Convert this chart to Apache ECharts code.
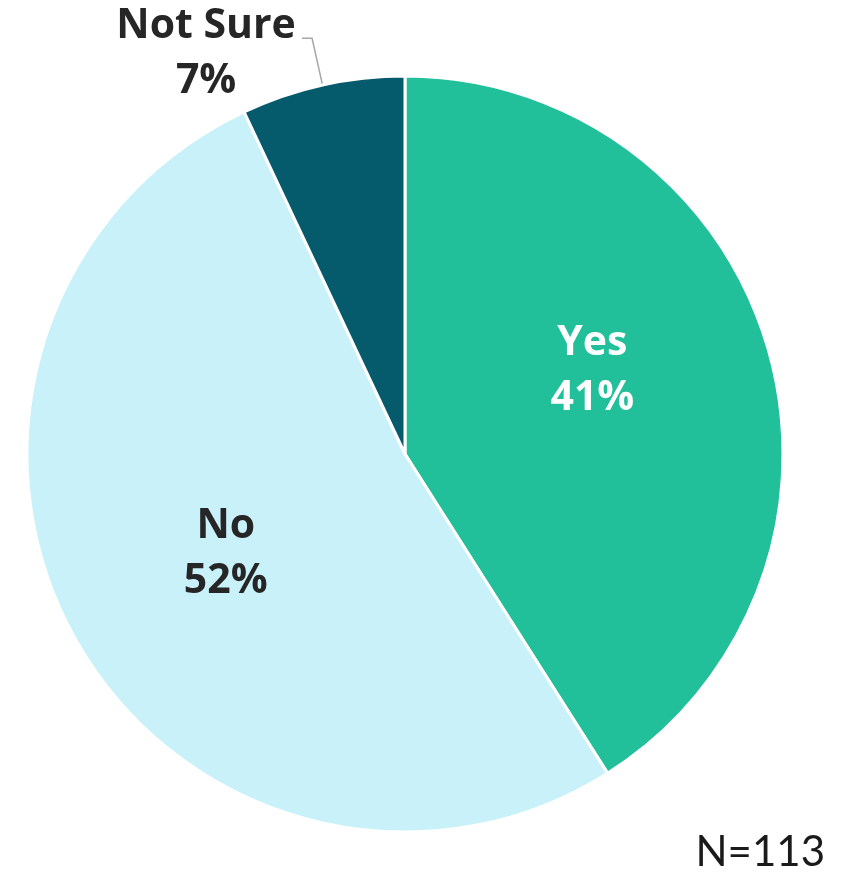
<!DOCTYPE html>
<html>
<head>
<meta charset="utf-8">
<script src="https://cdn.jsdelivr.net/npm/echarts@6/dist/echarts.min.js"></script>
<style>
  html, body { margin: 0; padding: 0; background: #fff; }
  #chart { width: 851px; height: 876px; }
</style>
</head>
<body>
<div id="chart"></div>
<script>
// Survey answers, drawn clockwise from 12 o'clock
const categories = ['Yes', 'No', 'Not Sure'];
const shares = [41, 52, 7];
const sliceColors = ['#21bf9a', '#c8f1fa', '#055a6b'];
const labelColors = ['#ffffff', '#262626', '#262626'];
const sampleNote = 'N=113';

const chart = echarts.init(document.getElementById('chart'), null, { renderer: 'canvas' });

const labelFont = { fontFamily: 'Open Sans', fontWeight: 'bold', fontSize: 41, lineHeight: 55 };

const data = categories.map((name, i) => {
  const item = {
    name: name,
    value: shares[i],
    itemStyle: { color: sliceColors[i] },
    label: { color: labelColors[i] }
  };
  if (name === 'Not Sure') {
    item.label.position = 'outside';
    item.label.formatter = '{t|{b}}\n{t|{c}%}';
    item.label.rich = { t: Object.assign({ width: 182, align: 'center', color: labelColors[i] }, labelFont) };
    item.labelLine = { show: true, length: 48, length2: 10, lineStyle: { color: '#a6a6a6', width: 1.5 } };
  }
  return item;
});

chart.setOption({
  animation: false,
  title: {
    text: sampleNote,
    right: 21,
    top: 826,
    textStyle: { fontFamily: 'Lato', fontWeight: 'normal', fontSize: 42, color: '#1a1a1a' }
  },
  series: [{
    type: 'pie',
    center: [405, 454],
    radius: 378,
    startAngle: 90,
    clockwise: true,
    avoidLabelOverlap: false,
    itemStyle: { borderColor: '#ffffff', borderWidth: 3 },
    label: Object.assign({
      show: true,
      position: 'inside',
      formatter: '{b}\n{c}%',
      align: 'center'
    }, labelFont),
    labelLine: { show: false },
    labelLayout: function (p) {
      if (p.dataIndex === 0) return { dx: 3, dy: -30 };
      if (p.dataIndex === 1) return { dx: -11, dy: 7 };
      return { dy: 16 };
    },
    data: data
  }]
});
</script>
</body>
</html>
